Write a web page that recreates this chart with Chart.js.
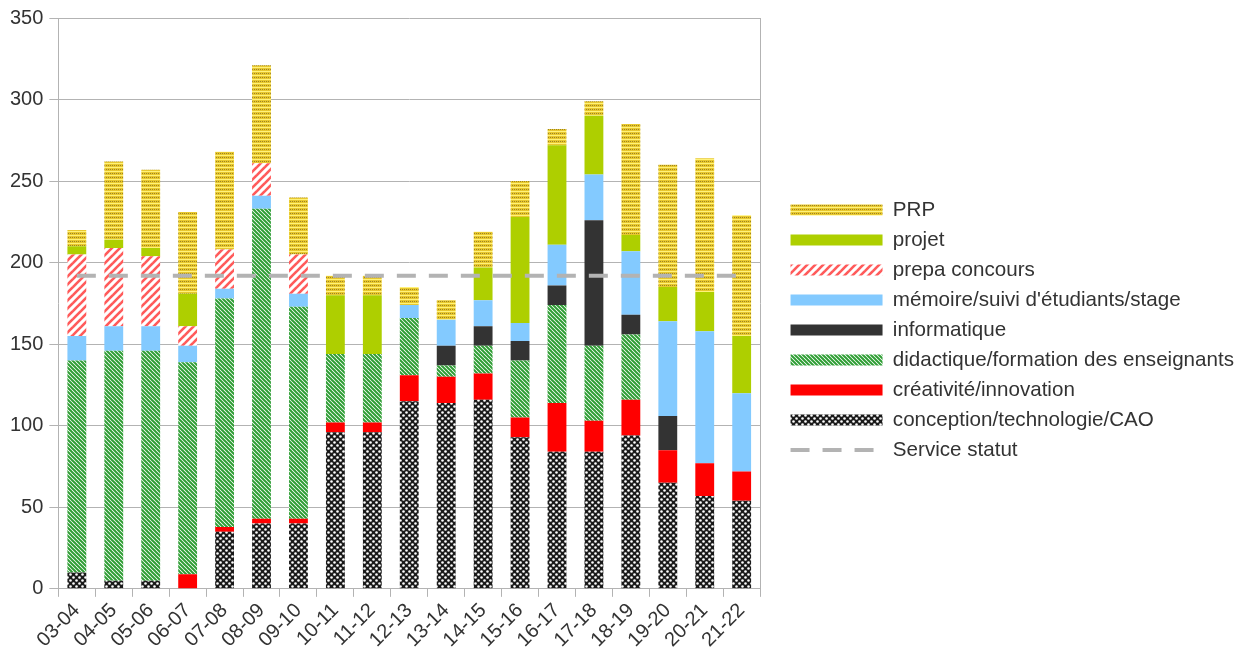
<!DOCTYPE html>
<html>
<head>
<meta charset="utf-8">
<script src="https://cdn.jsdelivr.net/npm/chart.js@4"></script>
<style>
  html, body { margin: 0; padding: 0; background: #fff; }
  #wrap { width: 1247px; height: 655px; position: relative; }
</style>
</head>
<body>
<div id="wrap"><canvas id="chart"></canvas></div>
<script>
var years = ['03-04', '04-05', '05-06', '06-07', '07-08', '08-09', '09-10', '10-11', '11-12', '12-13',
             '13-14', '14-15', '15-16', '16-17', '17-18', '18-19', '19-20', '20-21', '21-22'];

var conception  = [10, 5, 5, 0, 35, 40, 40, 96, 96, 115, 114, 116, 93, 84, 84, 94, 65, 57, 54];
var creativite  = [0, 0, 0, 9, 3, 3, 3, 6, 6, 16, 16, 16, 12, 30, 19, 22, 20, 20, 18];
var didactique  = [130, 141, 141, 130, 140, 190, 130, 42, 42, 35, 7, 17, 35, 60, 46, 40, 0, 0, 0];
var informatique = [0, 0, 0, 0, 0, 0, 0, 0, 0, 0, 12, 12, 12, 12, 77, 12, 21, 0, 0];
var memoire     = [15, 15, 15, 10, 6, 8, 8, 0, 0, 8, 16, 16, 11, 25, 28, 39, 58, 81, 48];
var prepa       = [50, 48, 43, 12, 24, 20, 24, 0, 0, 0, 0, 0, 0, 0, 0, 0, 0, 0, 0];
var projet      = [5, 5, 5, 20, 0, 0, 0, 36, 36, 0, 0, 20, 65, 61, 36, 10, 21, 24, 35];
var prp         = [10, 48, 48, 50, 60, 60, 35, 12, 12, 11, 12, 22, 22, 10, 9, 68, 75, 82, 74];
var serviceStatut = [192, 192, 192, 192, 192, 192, 192, 192, 192, 192, 192, 192, 192, 192, 192, 192, 192, 192, 192];

var yTicks = [0, 50, 100, 150, 200, 250, 300, 350];

var FONT = 'Liberation Sans';
var FS = 20;

// small tiles for the hatched fills
function makePattern(size, draw) {
    var c = document.createElement('canvas');
    c.width = size;
    c.height = size;
    var g = c.getContext('2d');
    draw(g, size);
    return g.createPattern(c, 'repeat');
}

var patCAO = makePattern(6, function (g, s) {
    g.fillStyle = '#1a1a1a';
    g.fillRect(0, 0, s, s);
    g.fillStyle = '#ffffff';
    [[1.5, 1.5], [4.5, 4.5]].forEach(function (p) {
        g.beginPath();
        g.arc(p[0], p[1], 1.3, 0, Math.PI * 2);
        g.fill();
    });
});

var patDidac = makePattern(4, function (g, s) {
    g.fillStyle = '#ffffff';
    g.fillRect(0, 0, s, s);
    g.strokeStyle = '#2f9e35';
    g.lineWidth = 2;
    for (var k = -1; k <= 1; k++) {
        g.beginPath();
        g.moveTo(k * s - 1, -1);
        g.lineTo(k * s + s + 1, s + 1);
        g.stroke();
    }
});

var patPrepa = makePattern(8, function (g, s) {
    g.fillStyle = '#ffffff';
    g.fillRect(0, 0, s, s);
    g.strokeStyle = '#ff5a5a';
    g.lineWidth = 2.6;
    for (var k = -1; k <= 1; k++) {
        g.beginPath();
        g.moveTo(k * s - 1, s + 1);
        g.lineTo(k * s + s + 1, -1);
        g.stroke();
    }
});

var patPRP = makePattern(4, function (g, s) {
    g.fillStyle = '#e8c82e';
    g.fillRect(0, 0, s, s);
    g.fillStyle = '#fff27a';
    g.fillRect(0, 3, s, 1);
    g.fillStyle = '#9c8324';
    g.fillRect(0, 1, 1, 1);
    g.fillRect(2, 1, 1, 1);
});

function bar(label, data, bg) {
    return {
        type: 'bar',
        label: label,
        data: data,
        backgroundColor: bg,
        borderWidth: 0,
        stack: 'a',
        categoryPercentage: 1,
        barPercentage: 0.51
    };
}

var datasets = [
    bar('conception/technologie/CAO', conception, patCAO),
    bar('créativité/innovation', creativite, '#ff0000'),
    bar('didactique/formation des enseignants', didactique, patDidac),
    bar('informatique', informatique, '#333333'),
    bar('mémoire/suivi d\'étudiants/stage', memoire, '#83caff'),
    bar('prepa concours', prepa, patPrepa),
    bar('projet', projet, '#aecf00'),
    bar('PRP', prp, patPRP),
    {
        type: 'line',
        label: 'Service statut',
        data: serviceStatut,
        stack: 'svc',
        borderColor: '#b3b3b3',
        backgroundColor: 'rgba(0,0,0,0)',
        borderWidth: 4,
        borderDash: [19, 13],
        pointRadius: 0,
        fill: false,
        order: -1
    }
];

new Chart(document.getElementById('chart'), {
    type: 'bar',
    data: { labels: years, datasets: datasets },
    options: {
        responsive: true,
        maintainAspectRatio: false,
        animation: false,
        layout: { padding: { top: 12, left: 4, right: 3, bottom: 7 } },
        plugins: {
            tooltip: { enabled: false },
            legend: {
                position: 'right',
                align: 'center',
                maxWidth: 480,
                labels: {
                    font: { family: FONT, size: 20.6 },
                    color: '#333333',
                    usePointStyle: true,
                    pointStyleWidth: 92,
                    boxHeight: 11,
                    padding: 9.4,
                    generateLabels: function (chart) {
                        var items = Chart.defaults.plugins.legend.labels.generateLabels(chart);
                        items.forEach(function (it) {
                            var ds = chart.data.datasets[it.datasetIndex];
                            if (ds.type === 'line') {
                                it.pointStyle = 'line';
                                it.lineWidth = 4;
                                it.lineDash = [19, 13];
                                it.strokeStyle = '#b3b3b3';
                            } else {
                                it.pointStyle = 'rect';
                                it.lineWidth = 0;
                            }
                        });
                        return items;
                    },
                    sort: function (a, b) {
                        function key(it) { return it.datasetIndex === 8 ? 100 : -it.datasetIndex; }
                        return key(a) - key(b);
                    }
                }
            }
        },
        scales: {
            x: {
                stacked: true,
                offset: true,
                grid: {
                    display: true,
                    drawOnChartArea: false,
                    offset: true,
                    tickLength: 8,
                    color: '#b3b3b3'
                },
                border: { color: '#b3b3b3' },
                ticks: {
                    font: { family: FONT, size: FS },
                    color: '#333333',
                    maxRotation: 45,
                    minRotation: 45,
                    autoSkip: false,
                    padding: 2
                },
                afterFit: function (scale) { scale.height -= 6; }
            },
            y: {
                stacked: true,
                min: 0,
                max: 350,
                afterBuildTicks: function (scale) {
                    scale.ticks = yTicks.map(function (v) { return { value: v }; });
                },
                grid: { color: '#b3b3b3', tickLength: 9 },
                border: { color: '#b3b3b3' },
                ticks: {
                    font: { family: FONT, size: FS },
                    color: '#333333',
                    padding: 6
                }
            },
            y2: {
                position: 'right',
                grid: { display: false },
                ticks: { display: false },
                border: { display: true, color: '#b3b3b3' },
                afterFit: function (scale) { scale.width = 21; }
            }
        }
    }
});
</script>
</body>
</html>
